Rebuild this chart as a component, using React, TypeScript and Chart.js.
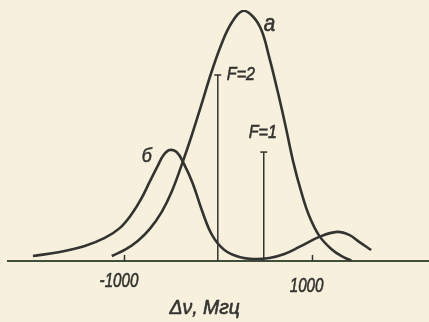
import React, { useEffect, useRef } from "react";
import { Chart, registerables } from "chart.js";

Chart.register(...registerables);

// Frequency offset, MHz
const freqA = [-1131, -993, -854, -727, -599, -493, -386, -280, -173, -67, 40, 146, 263, 369, 465, 550, 635, 720, 805, 890, 975, 1082, 1210, 1316, 1422];
const intensA = [2.0, 4.4, 8.0, 12.7, 19.5, 27.5, 38.2, 49.8, 62.5, 75.3, 86.5, 94.8, 99.6, 97.6, 92.0, 80.9, 68.1, 54.2, 39.4, 27.5, 17.9, 10.0, 4.8, 2.0, 0.2];

const freqB = [-1971, -1684, -1418, -1205, -1046, -918, -812, -727, -642, -578, -514, -439, -365, -269, -163, -56, 71, 231, 390, 550, 710, 869, 1082, 1273, 1401, 1507, 1635];
const intensB = [2.0, 3.6, 6.0, 9.2, 13.1, 18.7, 25.1, 31.5, 37.8, 42.2, 44.2, 43.4, 39.0, 31.1, 19.5, 10.0, 4.4, 1.6, 0.8, 1.2, 2.8, 5.6, 9.6, 11.6, 10.4, 7.6, 4.4];

// Hyperfine components
const lineLabels = ["F=2", "F=1"];
const lineFreq = [0, 490];
const lineIntens = [74.1, 43.4];

const curveLabels = ["a", "б"];
const tickValues = [-1000, 1000];
const tickLabels = ["-1000", "1000"];
const axisTitle = "Δν, Мгц";

const INK = "#333331";
const BG = "#f7f0dc";
const FONT = "'Liberation Sans', 'DejaVu Sans', sans-serif";

function drawText(ctx: any, text: string, x: number, y: number, font: string, sx: number, align: string) {
  ctx.save();
  ctx.font = font;
  ctx.textAlign = align;
  ctx.textBaseline = "alphabetic";
  ctx.translate(x, y);
  ctx.scale(sx, 1);
  ctx.lineWidth = 0.6;
  ctx.fillText(text, 0, 0);
  ctx.strokeText(text, 0, 0);
  ctx.restore();
}

export default function App() {
  const ref = useRef<HTMLCanvasElement | null>(null);

  useEffect(() => {
    document.body.style.margin = "0";
    document.body.style.background = BG;
    const canvas = ref.current!;
    const toXY = (xs: number[], ys: number[]) => xs.map((x, i) => ({ x, y: ys[i] }));

    const overlay = {
      id: "overlay",
      beforeDraw(chart: any) {
        const { ctx } = chart;
        ctx.save();
        ctx.fillStyle = BG;
        ctx.fillRect(0, 0, chart.width, chart.height);
        ctx.restore();
      },
      afterDraw(chart: any) {
        const { ctx, scales } = chart;
        const xs = scales.x;
        const ys = scales.y;
        const base = ys.getPixelForValue(0);
        ctx.save();
        ctx.strokeStyle = INK;
        ctx.fillStyle = INK;
        ctx.lineWidth = 1.5;
        // inward ticks
        tickValues.forEach((v) => {
          const px = Math.round(xs.getPixelForValue(v)) + 0.5;
          ctx.beginPath();
          ctx.moveTo(px, base);
          ctx.lineTo(px, base - 6);
          ctx.stroke();
        });
        // tick labels
        const tf = `italic 20px ${FONT}`;
        drawText(ctx, tickLabels[0], xs.getPixelForValue(tickValues[0]) - 5, base + 26, tf, 0.76, "center");
        drawText(ctx, tickLabels[1], xs.getPixelForValue(tickValues[1]) - 5, base + 31, tf, 0.76, "center");
        // axis title
        drawText(ctx, axisTitle, xs.getPixelForValue(-140), base + 53, `italic 20px ${FONT}`, 0.97, "center");
        // curve labels
        drawText(ctx, curveLabels[0], xs.getPixelForValue(490), ys.getPixelForValue(91.5), `italic 23px ${FONT}`, 0.9, "left");
        drawText(ctx, curveLabels[1], xs.getPixelForValue(-810), ys.getPixelForValue(39.5), `italic 21px ${FONT}`, 0.85, "left");
        // component labels
        const lf = `italic 19px ${FONT}`;
        drawText(ctx, lineLabels[0], xs.getPixelForValue(lineFreq[0]) + 9, ys.getPixelForValue(lineIntens[0] - 2), lf, 0.85, "left");
        drawText(ctx, lineLabels[1], xs.getPixelForValue(lineFreq[1]) - 15, ys.getPixelForValue(lineIntens[1] + 5.5), lf, 0.85, "left");
        ctx.restore();
      },
    };

    const stemSets = lineFreq.map((f, i) => ({
      label: lineLabels[i],
      data: [{ x: f, y: 0 }, { x: f, y: lineIntens[i] }],
      borderColor: INK,
      borderWidth: 1.5,
      pointRadius: [0, 3.5],
      pointStyle: "line",
      pointBorderColor: INK,
      pointBorderWidth: 1.5,
      tension: 0,
      showLine: true,
    }));

    const chart = new Chart(canvas, {
      type: "line",
      data: {
        datasets: [
          {
            label: curveLabels[0],
            data: toXY(freqA, intensA),
            borderColor: INK,
            borderWidth: 2.6,
            pointRadius: 0,
            tension: 0.4,
            fill: false,
          },
          {
            label: curveLabels[1],
            data: toXY(freqB, intensB),
            borderColor: INK,
            borderWidth: 2.6,
            pointRadius: 0,
            tension: 0.4,
            fill: false,
          },
          ...stemSets,
        ] as any,
      },
      options: {
        animation: false,
        responsive: false,
        maintainAspectRatio: false,
        devicePixelRatio: 1,
        layout: { autoPadding: false, padding: { left: 8, right: 0, top: 10, bottom: 0 } },
        plugins: { legend: { display: false }, tooltip: { enabled: false } },
        elements: { line: { borderCapStyle: "butt" } },
        scales: {
          x: {
            type: "linear",
            min: -2237,
            max: 2252,
            ticks: { display: false },
            grid: { display: false, drawTicks: false },
            border: { display: true, color: "#3f4f3c", width: 2 },
            afterFit: (scale: any) => {
              scale.height = 61;
            },
          },
          y: {
            display: false,
            min: 0,
            max: 100,
          },
        },
      } as any,
      plugins: [overlay],
    });
    return () => chart.destroy();
  }, []);

  return (
    <div style={{ position: "fixed", left: 0, top: 0, width: 429, height: 322, background: BG }}>
      <canvas ref={ref} width={429} height={322} style={{ width: 429, height: 322, display: "block" }} />
    </div>
  );
}
